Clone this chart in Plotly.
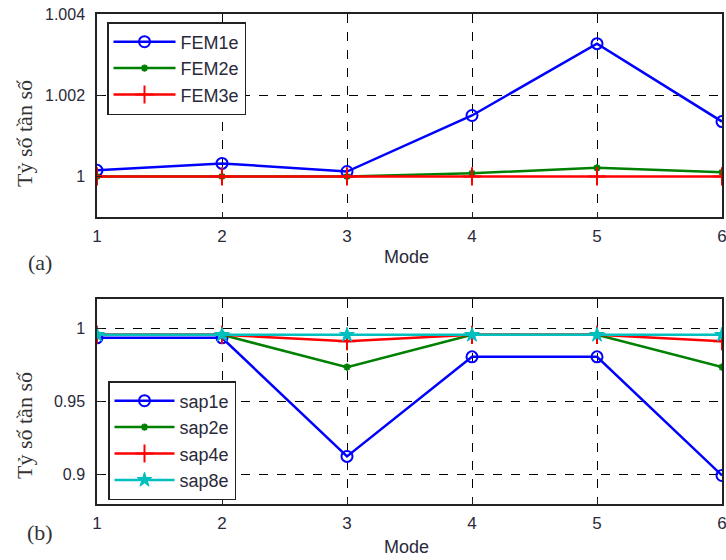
import plotly.graph_objects as go

modes = [1, 2, 3, 4, 5, 6]

fem1e = [1.00015, 1.00032, 1.00012, 1.0015, 1.00327, 1.00135]
fem2e = [1.0, 1.0, 1.0, 1.00008, 1.00021, 1.0001]
fem3e = [1.0, 1.0, 1.0, 1.0, 1.0, 1.0]

sap1e = [0.9935, 0.9935, 0.9125, 0.9805, 0.9805, 0.8995]
sap2e = [0.9955, 0.9955, 0.9735, 0.9955, 0.9955, 0.9735]
sap4e = [0.9955, 0.9955, 0.9912, 0.9955, 0.9955, 0.9912]
sap8e = [0.9955, 0.9955, 0.9955, 0.9955, 0.9955, 0.9955]

top_ticks = [1.0, 1.002, 1.004]
top_ticktext = ["1", "1.002", "1.004"]
bot_ticks = [0.9, 0.95, 1.0]
bot_ticktext = ["0.9", "0.95", "1"]

W, H = 726, 560
fig = go.Figure()

BLUE, GREEN, RED, CYAN = "#0000FF", "#008000", "#FF0000", "#00BFBF"
LW = 2.5

def add(y, name, color, symbol, size, xa, ya, legend, mlw=2):
    fig.add_trace(go.Scatter(
        x=modes, y=y, name=name, mode="lines+markers",
        line=dict(color=color, width=LW),
        marker=dict(symbol=symbol, size=size, color=color, line=dict(color=color, width=mlw)),
        xaxis=xa, yaxis=ya, legend=legend))

add(fem1e, "FEM1e", BLUE, "circle-open", 11, "x", "y", "legend")
add(fem2e, "FEM2e", GREEN, "asterisk-open", 6, "x", "y", "legend")
add(fem3e, "FEM3e", RED, "cross-thin-open", 13, "x", "y", "legend")

add(sap1e, "sap1e", BLUE, "circle-open", 11, "x2", "y2", "legend2")
add(sap2e, "sap2e", GREEN, "asterisk-open", 6, "x2", "y2", "legend2")
add(sap4e, "sap4e", RED, "cross-thin-open", 13, "x2", "y2", "legend2")
add(sap8e, "sap8e", CYAN, "star", 11, "x2", "y2", "legend2", mlw=1)

tickfont = dict(family="Liberation Sans, Arial", size=16, color="#2a2a3a")
xtickfont = dict(family="Liberation Sans, Arial", size=17, color="#2a2a3a")
xdom = [97 / W, 722 / W]

common_x = dict(range=[1, 6], tickvals=modes, showline=True, mirror=True,
                linecolor="#222", linewidth=1.5, showgrid=True, gridcolor="black",
                griddash="dash", gridwidth=1, zeroline=False, ticks="inside",
                ticklen=5, tickcolor="#222", tickfont=xtickfont, domain=xdom,
                ticklabelstandoff=3, automargin=False, ticklabeloverflow="allow")
common_y = dict(showline=True, mirror=True, linecolor="#222", linewidth=1.5,
                showgrid=True, gridcolor="black", griddash="dash", gridwidth=1,
                zeroline=False, ticks="inside", ticklen=5, tickcolor="#222",
                tickfont=tickfont, ticklabelstandoff=7, automargin=False,
                ticklabeloverflow="allow")

legfont = dict(family="Liberation Sans, Arial", size=18, color="#2a2a3a")
fig.update_layout(
    width=W, height=H, margin=dict(l=0, r=0, t=0, b=0, autoexpand=False),
    paper_bgcolor="white", plot_bgcolor="white",
    xaxis=dict(**common_x, anchor="y"),
    yaxis=dict(**common_y, range=[0.999, 1.004], tickvals=top_ticks, ticktext=top_ticktext,
               domain=[1 - 217 / H, 1 - 14 / H], anchor="x"),
    xaxis2=dict(**common_x, anchor="y2"),
    yaxis2=dict(**common_y, range=[0.88, 1.02], tickvals=bot_ticks, ticktext=bot_ticktext,
                domain=[1 - 504 / H, 1 - 299 / H], anchor="x2"),
    legend=dict(x=107 / W, y=1 - 22 / H, xanchor="left", yanchor="top",
                bordercolor="#222", borderwidth=1.5, bgcolor="white",
                font=legfont, tracegroupgap=0, itemwidth=62),
    legend2=dict(x=108 / W, y=1 - 381 / H, xanchor="left", yanchor="top",
                 bordercolor="#222", borderwidth=1.5, bgcolor="white",
                 font=legfont, tracegroupgap=0, itemwidth=60),
    showlegend=True,
)

serif = dict(family="Liberation Serif, Times New Roman", size=22, color="#333")
sans = dict(family="Liberation Sans, Arial", size=18, color="#2a2a3a")
ann = [
    dict(text="Tỷ số tần số", x=24 / W, y=1 - 134 / H, textangle=-90, font=serif),
    dict(text="Tỷ số tần số", x=24 / W, y=1 - 426 / H, textangle=-90, font=serif),
    dict(text="(a)", x=40 / W, y=1 - 262 / H, font=serif),
    dict(text="(b)", x=40 / W, y=1 - 532 / H, font=serif),
    dict(text="Mode", x=407 / W, y=1 - 257 / H, font=sans),
    dict(text="Mode", x=407 / W, y=1 - 547 / H, font=sans),
]
for a in ann:
    fig.add_annotation(xref="paper", yref="paper", showarrow=False,
                       xanchor="center", yanchor="middle", **a)

fig.write_html("out.html")
